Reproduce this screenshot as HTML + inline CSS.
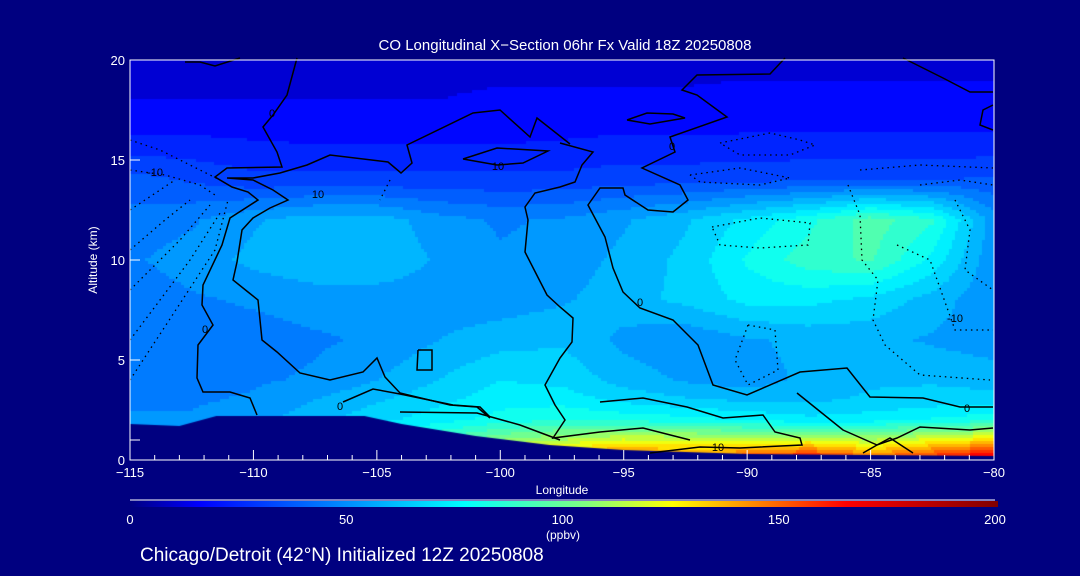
<!DOCTYPE html>
<html><head><meta charset="utf-8"><style>
html,body{margin:0;padding:0;background:#000080;}
#wrap{position:relative;width:1080px;height:576px;background:#000080;overflow:hidden;font-family:"Liberation Sans",sans-serif;}
canvas,svg{position:absolute;left:0;top:0;}
</style></head><body>
<div id="wrap">
<canvas id="field" width="1080" height="576"></canvas>
<svg id="ov" width="1080" height="576"></svg>
</div>
<script>
// ---- data ----
const lons = [-115,-112.5,-110,-107.5,-105,-102.5,-100,-97.5,-95,-92.5,-90,-87.5,-85,-82.5,-80];
const alts = [0,1,2,3,4,6,8,10,12,14,16,18,20];
const row0  = [60,60,62,70,90,115,135,150,155,150,160,170,155,165,180];
const row1  = [55,55,60,66,78,92,105,112,120,118,115,120,112,122,130];
const row2  = [50,50,54,60,68,74,80,84,82,80,76,72,74,78,82];
const row3  = [48,48,50,56,62,68,74,74,68,64,62,62,64,66,66];
const row4  = [44,46,48,50,56,63,70,68,60,55,52,58,62,62,60];
const row6  = [42,45,46,48,50,56,60,62,54,50,55,58,58,55,52];
const row8  = [45,48,50,52,52,52,52,55,60,65,72,72,68,60,50];
const row10 = [48,52,58,62,62,55,50,52,58,65,78,88,92,75,50];
const row12 = [45,48,55,60,60,52,48,50,55,62,72,82,95,85,52];
const row14 = [38,34,30,30,30,30,30,30,32,32,33,34,35,35,36];
const row16 = [22,22,21,20,20,20,20,21,22,22,22,22,22,22,22];
const row18 = [14,14,14,14,14,14,15,15,15,15,16,16,16,16,16];
const row20 = [12,12,12,12,12,12,12,12,12,12,12,12,12,12,12];
const grid = [row0,row1,row2,row3,row4,row6,row8,row10,row12,row14,row16,row18,row20];
const terrainLon = [-115,-113,-111.5,-105.5,-104,-101,-98,-95,-90,-85,-80];
const terrainAlt = [1.8,1.7,2.2,2.2,1.8,1.2,0.75,0.5,0.3,0.25,0.2];
const xTicks = [-115,-110,-105,-100,-95,-90,-85,-80];
const yTicks = [0,5,10,15,20];
const cbTicks = [0,50,100,150,200];

// ---- axes ----
const X0=130,X1=994,Y0=460,Y1=60;
const xs = lon => X0 + (lon+115)/35*(X1-X0);
const ys = a => Y0 - a/20*(Y0-Y1);
const stops=[[0,[0,0,128]],[16,[0,0,255]],[77,[0,255,255]],[105,[128,255,128]],[125,[255,255,0]],[165,[255,0,0]],[200,[128,0,0]]];
function cmap(v){v=Math.max(0,Math.min(200,v));for(let i=1;i<stops.length;i++){if(v<=stops[i][0]){const a=stops[i-1],b=stops[i];const t=(v-a[0])/(b[0]-a[0]);return a[1].map((c,k)=>Math.round(c+(b[1][k]-c)*t));}}return stops[stops.length-1][1];}
function interp1(arr,v){for(let i=0;i<arr.length-1;i++){if(v>=arr[i]&&v<=arr[i+1])return [i,(v-arr[i])/(arr[i+1]-arr[i])];}return v<arr[0]?[0,0]:[arr.length-2,1];}
function val(lon,alt){const [i,tx]=interp1(lons,lon);const [j,ty]=interp1(alts,alt);
 const a=grid[j][i],b=grid[j][i+1],c=grid[j+1][i],d=grid[j+1][i+1];
 return (a*(1-tx)+b*tx)*(1-ty)+(c*(1-tx)+d*tx)*ty;}
const cv=document.getElementById('field').getContext('2d');
const S=3;
for(let px=X0;px<X1;px+=S){for(let py=Y1;py<Y0;py+=S){
 const lon=-115+(px+S/2-X0)/(X1-X0)*35, alt=(Y0-(py+S/2))/(Y0-Y1)*20;
 let v=val(lon,alt); v=Math.floor(v/7)*7+3.5;
 const c=cmap(v); cv.fillStyle=`rgb(${c[0]},${c[1]},${c[2]})`; cv.fillRect(px,py,S,S);}}
// terrain
cv.fillStyle='#000080';cv.beginPath();cv.moveTo(X0,Y0+3);
terrainLon.forEach((l,i)=>cv.lineTo(xs(l),ys(terrainAlt[i])));
cv.lineTo(X1+1,ys(terrainAlt[terrainAlt.length-1]));cv.lineTo(X1+1,Y0+3);cv.closePath();cv.fill();

const NS='http://www.w3.org/2000/svg';const svg=document.getElementById('ov');
function el(t,attrs,txt){const e=document.createElementNS(NS,t);for(const k in attrs)e.setAttribute(k,attrs[k]);if(txt!==undefined)e.textContent=txt;svg.appendChild(e);return e;}
// contour lines (pixel-space traced polylines)
const solidLines=[
 [[297,58],[287,95],[273,115],[263,127],[277,152],[282,167],[227,168],[215,177],[232,187],[248,192],[258,200],[230,218],[222,245],[203,285],[202,305],[213,325],[198,345],[197,378],[203,392],[230,392],[250,398],[257,415]],
 [[570,144],[537,118],[530,137],[500,110],[473,113],[407,145],[412,163],[401,173],[388,162],[330,155],[307,165],[280,173],[253,178],[227,178],[253,180],[273,190],[288,200],[270,208],[253,218],[242,230],[237,262],[233,280],[248,292],[258,300],[262,340],[277,352],[300,373],[330,380],[363,372],[377,358],[385,377],[400,393],[450,405],[477,407],[490,418]],
 [[560,143],[593,152],[582,165],[575,182],[560,187],[535,193],[525,207],[528,220],[525,252],[547,295],[560,307],[573,318],[572,342],[560,358],[545,385],[555,405],[565,420],[553,438],[600,432],[643,428],[690,440]],
 [[785,58],[770,74],[697,75],[682,90],[697,95],[727,117],[670,137],[675,152],[642,168],[680,185],[688,200],[673,212],[648,210],[625,195],[623,188],[600,188],[588,205],[605,237],[613,268],[623,292],[640,308],[673,320],[698,345],[713,385],[747,395],[800,372],[847,368],[870,397],[923,398],[960,407],[993,407]],
 [[903,58],[943,78],[970,92],[993,92]],[[993,105],[983,110],[980,125],[993,130]],
 [[627,120],[647,113],[673,114],[685,118],[650,124],[627,120]],
 [[463,159],[497,148],[548,151],[523,163],[497,165],[463,159]],
 [[418,350],[432,350],[432,370],[417,370],[418,350]],
 [[343,402],[373,389],[400,394],[453,405],[480,407],[490,417]],
 [[400,412],[477,413],[520,425],[560,440]],
 [[600,402],[643,398],[687,407],[723,418],[763,415],[775,432],[800,438],[802,445],[740,448],[700,447],[650,453]],
 [[797,393],[843,430],[877,445],[897,438],[920,427],[970,430],[993,428]],[[863,453],[877,445],[890,438],[913,453]],
 [[185,62],[200,62],[215,66],[240,58]]
];
solidLines.forEach((pts,i)=>{const p=el('polyline',{points:pts.map(q=>q.join(',')).join(' '),fill:'none',stroke:'#000',"stroke-width":1.5});

});
const dotLines=[
 [[130,140],[160,150],[200,170],[220,180]],[[130,170],[165,175],[200,185],[215,195]],[[130,210],[160,190],[175,180]],
 [[130,250],[165,220],[190,200]],[[130,290],[180,240],[210,205]],[[130,340],[190,260],[222,210]],[[130,380],[215,250],[228,200]],
 [[720,143],[770,133],[800,140],[815,145],[790,155],[740,155],[720,143]],
 [[690,175],[740,168],[790,178],[760,185],[700,182],[690,175]],
 [[712,227],[760,218],[810,223],[808,245],[760,248],[720,245],[712,227]],
 [[748,325],[775,330],[778,370],[748,385],[735,360],[748,325]],
 [[848,185],[860,215],[862,260],[878,280],[873,320],[885,345],[920,375],[990,380]],
 [[860,170],[920,165],[993,168]],[[920,185],[960,180],[993,185]],[[955,200],[970,230],[965,270],[993,290]],
 [[897,245],[930,260],[955,330],[993,330]],
 [[390,180],[380,200]]
];
dotLines.forEach((pts,i)=>{const p=el('polyline',{points:pts.map(q=>q.join(',')).join(' '),fill:'none',stroke:'#000',"stroke-width":1.3,"stroke-dasharray":"1.5,4"});

});
[[272,117,'0'],[318,198,'10'],[498,170,'10'],[155,176,'-10'],[640,306,'0'],[967,412,'0'],[718,451,'10'],[205,333,'0'],[340,410,'0'],[955,322,'-10'],[672,150,'0']].forEach((l,i)=>{
 const t=el('text',{x:l[0],y:l[1],fill:'#000','font-size':11,'text-anchor':'middle'},l[2]);
 
 });
// frame
const fr=el('rect',{x:X0,y:Y1,width:X1-X0,height:Y0-Y1,fill:'none',stroke:'#fff','stroke-width':1});

for(let l=-115;l<=-80;l++){const major=xTicks.includes(l);
 const t=el('line',{x1:xs(l),x2:xs(l),y1:Y0,y2:Y0-(major?10:5),stroke:'#fff'});
 }
xTicks.forEach(l=>{const t=el('text',{x:xs(l),y:477,fill:'#fff','font-size':13,'text-anchor':'middle'},'\u2212'+Math.abs(l));
 });
yTicks.forEach(a=>{const ln=el('line',{x1:X0,x2:X0+10,y1:ys(a),y2:ys(a),stroke:'#fff'});
 
 const t=el('text',{x:125,y:ys(a)+5,fill:'#fff','font-size':13,'text-anchor':'end'},String(a));
 });
const m1=el('line',{x1:X0,x2:X0+10,y1:ys(1),y2:ys(1),stroke:'#fff'});
const tt=el('text',{x:565,y:50,fill:'#fff','font-size':15,'text-anchor':'middle'},'CO Longitudinal X\u2212Section 06hr  Fx Valid 18Z 20250808');

const yt=el('text',{x:97,y:260,fill:'#fff','font-size':12,'text-anchor':'middle',transform:'rotate(-90 97 260)'},'Altitude (km)');

const xt=el('text',{x:562,y:494,fill:'#fff','font-size':12,'text-anchor':'middle'},'Longitude');

// colorbar
const defs=el('defs',{});const lg=document.createElementNS(NS,'linearGradient');lg.setAttribute('id','cb');defs.appendChild(lg);
stops.forEach(s=>{const st=document.createElementNS(NS,'stop');st.setAttribute('offset',(s[0]/200*100)+'%');st.setAttribute('stop-color',`rgb(${s[1].join(',')})`);lg.appendChild(st);});
const cbx=x=>130+x/200*(995-130);
const cl=el('line',{x1:130,x2:995,y1:500,y2:500,stroke:'#fff'});
const cb=el('rect',{x:130,y:501,width:868,height:6,fill:'url(#cb)'});
cbTicks.forEach(v=>{const t=el('text',{x:cbx(v),y:524,fill:'#fff','font-size':13,'text-anchor':'middle'},String(v));
 });
const un=el('text',{x:563,y:539,fill:'#fff','font-size':12,'text-anchor':'middle'},'(ppbv)');
const ft=el('text',{x:140,y:561,fill:'#fff','font-size':19},'Chicago/Detroit (42\u00B0N) Initialized 12Z 20250808');

</script>
</body></html>
